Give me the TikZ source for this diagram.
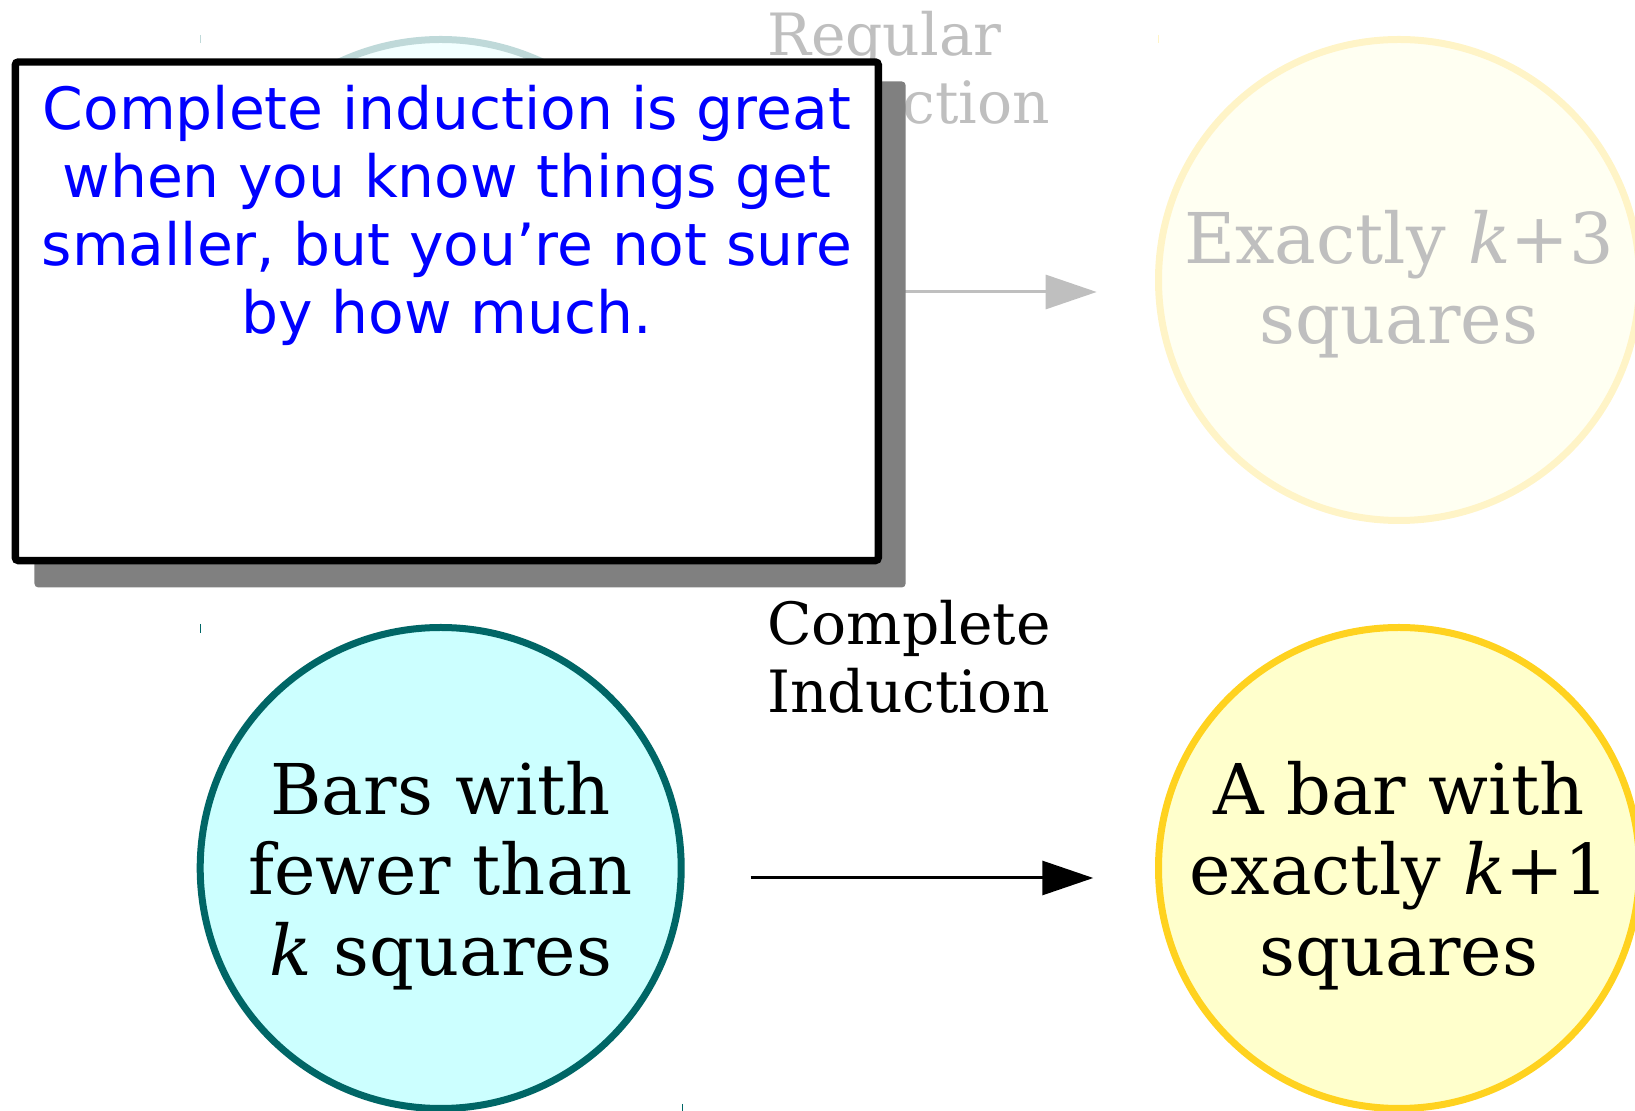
\documentclass[tikz,border=0pt]{standalone}
\usepackage{fontspec}
\setmainfont{DejaVu Serif}
\newfontfamily\notefont{DejaVu Sans}
\usetikzlibrary{arrows.meta}
\definecolor{barteal}{HTML}{006666}
\definecolor{barcyan}{HTML}{CCFFFF}
\definecolor{bargold}{HTML}{FFD21F}
\definecolor{barcream}{HTML}{FFFFCC}
\definecolor{noteblue}{HTML}{0000FF}
\definecolor{shadowgray}{HTML}{808080}

\begin{document}
\begin{tikzpicture}[x=0.5pt,y=-0.5pt,>={Triangle[length=25.5pt,width=17pt]},
  setnode/.style={circle,line width=3.5pt,minimum size=240.5pt,inner sep=0pt},
  settext/.style={inner sep=0pt,align=center,font=\fontsize{35}{40.25}\selectfont},
  stepname/.style={anchor=north west,inner sep=0pt,align=left,font=\fontsize{29.15}{34}\selectfont},
  link/.style={->,line width=1.5pt}]
\useasboundingbox (0,0) rectangle (1635,1111);
% regular induction (faded)
\node[setnode,draw=barteal!25,fill=barcyan!25] (few0) at (440.7,280) {};
\node[setnode,draw=bargold!25,fill=barcream!25] (exact3) at (1399,280) {};
\node[settext,text=black!25] (exact3text) at ([yshift=-2pt]exact3.center) {Exactly \textit{k}+3\\squares};
\coordinate (reg0) at (751,292);
\coordinate (reg1) at (1096.7,292);
\draw[link,black!25] (reg0) -- (reg1);
\node[stepname,text=black!25] (reglabel) at (766.8,11.1) {Regular\\Induction};
% note box
\fill[shadowgray,rounded corners=2pt] (34.4,81.4) rectangle (905.7,587.5);
\node[draw,line width=3.7pt,fill=white,rounded corners=1.5pt,minimum width=431.5pt,minimum height=249.3pt] (notebox) at (446.8,311.3) {};
\node[anchor=north,inner sep=0pt,align=center,text=noteblue,font=\notefont\fontsize{29.15}{34}\selectfont] (note) at (446.8,85.1) {Complete induction is great\\when you know things get\\smaller, but you’re not sure\\by how much.};
% complete induction
\node[setnode,draw=barteal,fill=barcyan] (few) at (440.7,868) {};
\node[settext] (fewtext) at ([yshift=-3.6pt]few.center) {Bars with\\fewer than\\\textit{k} squares};
\node[setnode,draw=bargold,fill=barcream] (exact1) at (1399,868) {};
\node[settext] (exact1text) at ([yshift=-3.6pt]exact1.center) {A bar with\\exactly \textit{k}+1\\squares};
\coordinate (comp0) at (750.7,878);
\coordinate (comp1) at (1093.3,878);
\draw[link] (comp0) -- (comp1);
\node[stepname] (complabel) at (766.8,599.7) {Complete\\Induction};
% stray marks
\draw[barteal!25,line width=0.5pt] (200,35) -- (200,43);
\draw[bargold!25,line width=0.5pt] (1158,35) -- (1158,43);
\draw[barteal,line width=0.5pt] (200,624) -- (200,633);
\draw[barteal,line width=0.5pt] (682,1104) -- (682,1111);
\end{tikzpicture}
\end{document}
